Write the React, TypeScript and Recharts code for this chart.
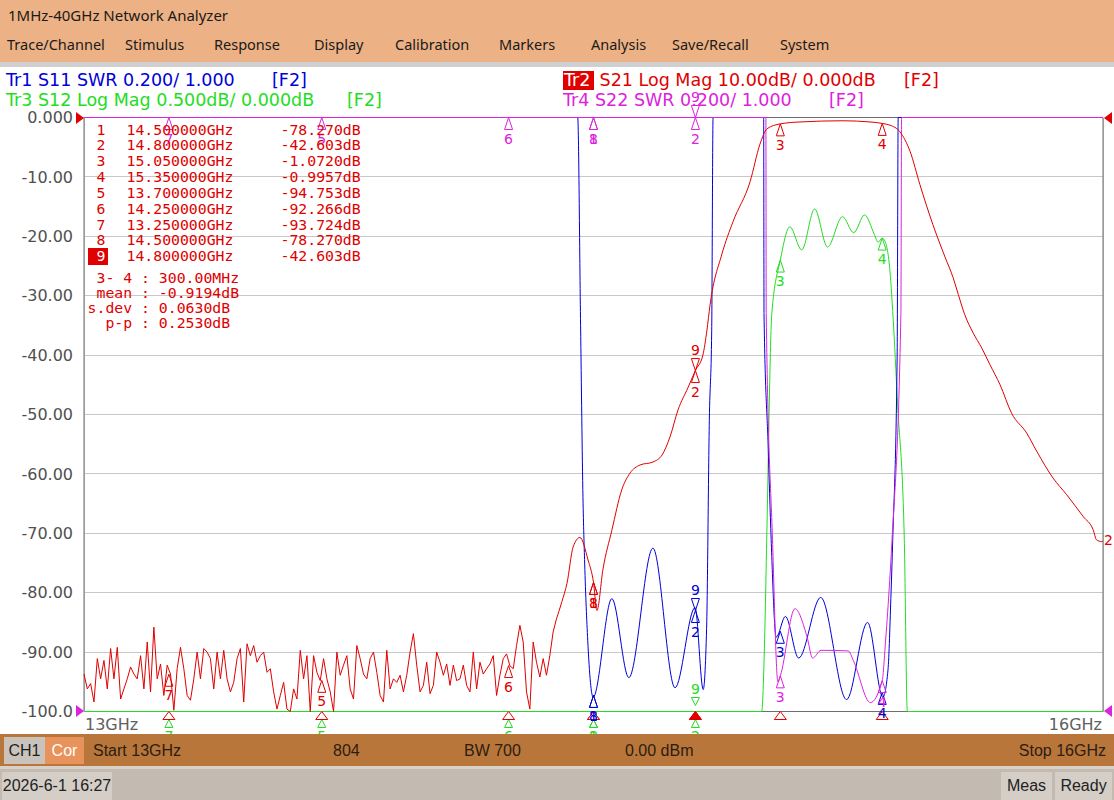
import React from "react";
import {
  CartesianGrid,
  ComposedChart,
  Line,
  ReferenceArea,
  Scatter,
  XAxis,
  YAxis,
} from "recharts";

const RED = "#e00000";
const BLUE = "#0000d8";
const GREEN = "#22dd22";
const MAGENTA = "#dd22dd";
const GRID_COLOR = "#c8c8c8";
const FRAME_COLOR = "#6e6e6e";
const AXIS_TEXT = "#505050";

const UI_FONT = '"Noto Sans", sans-serif';
const TRACE_FONT = '"DejaVu Sans", sans-serif';
const MONO_FONT = '"DejaVu Sans Mono", monospace';
const STATUS_FONT = '"Liberation Sans", Arial, sans-serif';

const X_TICKS_GHZ = [13, 13.3, 13.6, 13.9, 14.2, 14.5, 14.8, 15.1, 15.4, 15.7, 16];
const Y_TICKS = [0, -10, -20, -30, -40, -50, -60, -70, -80, -90, -100];

const MENU = [
  ["Trace/Channel", 7],
  ["Stimulus", 125],
  ["Response", 214],
  ["Display", 314],
  ["Calibration", 395],
  ["Markers", 499],
  ["Analysis", 591],
  ["Save/Recall", 672],
  ["System", 780],
] as const;

// markers (Tr2 readout table order)
const MARKER_NO = [1, 2, 3, 4, 5, 6, 7, 8, 9];
const MARKER_GHZ = [14.5, 14.8, 15.05, 15.35, 13.7, 14.25, 13.25, 14.5, 14.8];
const S21_MARKER_DB = [-78.27, -42.603, -1.072, -0.9957, -94.753, -92.266, -93.724, -78.27, -42.603];
// other traces, in screen divisions of the shared grid (null = not shown)
const S11_MARKER = [-97.3, -83, -86.5, -96.8, null, null, null, -97.3, -83];
const S12_MARKER = [-100, -100, -24, -20.3, -100, -100, -100, -100, -100];
const S22_MARKER = [0, 0, -94, -94.8, 0, 0, 0, 0, 0];

const STATS = [
  [" 3- 4", "300.00MHz"],
  [" mean", "-0.9194dB"],
  ["s.dev", "0.0630dB"],
  ["  p-p", "0.2530dB"],
];

// S21 noise floor, swept 13.000 .. 14.391 GHz
const NOISE_START_GHZ = 13;
const NOISE_END_GHZ = 14.391;
const S21_NOISE_DB = [
  -93.7, -96.2, -95.3, -98.4, -91.1, -94.5, -91.4, -96.2, -89.4, -94.5,
  -89.2, -97.9, -96.2, -94.5, -92.5, -93.7, -94.5, -90.6, -96.2, -88.3,
  -96.7, -85.8, -94.5, -92.0, -97.3, -92.2, -93.7, -99.8, -92.8, -89.2,
  -92.8, -97.3, -98.1, -94.5, -90.0, -94.5, -89.4, -90.0, -91.1, -96.2,
  -90.0, -94.5, -89.7, -94.5, -96.7, -95.1, -91.1, -89.4, -98.4, -88.6,
  -90.6, -88.9, -91.7, -90.6, -90.0, -93.4, -92.8, -96.7, -99.6, -97.3,
  -95.1, -99.6, -100, -96.2, -97.9, -89.7, -94.5, -90.6, -100, -90.6,
  -93.4, -94.8, -91.1, -94.5,
  -96.7, -100, -90.0, -93.9, -92.2, -90.6, -96.2, -97.9, -88.9, -91.1,
  -93.7, -94.5, -91.1, -90.0, -93.4, -97.3, -98.4, -89.7, -96.2, -94.5,
  -95.1, -93.9, -96.7, -93.9, -90.0, -86.9, -92.2, -96.7, -95.6, -91.7,
  -97.0, -95.6, -90.0, -91.7, -93.9, -92.0, -95.6, -92.2, -94.8, -94.5,
  -92.2, -95.6, -96.7, -90.0, -96.2, -91.7, -93.7, -92.8, -92.0, -90.6,
  -97.3, -93.9, -91.1, -90.3, -92.3, -92.8, -88.9, -85.5, -88.3, -96.7,
  -99.6, -88.3, -91.7, -94.2, -91.1, -93.9, -90.6, -86.6, -84.4,
];

// [GHz, dB]
const S21_PASSBAND: [number, number][] = [
  [14.391, -84.4], [14.407, -81.5], [14.422, -78.4], [14.44, -72.3], [14.46, -70.7],
  [14.484, -74.5], [14.5, -78.27], [14.51, -83], [14.528, -76], [14.554, -69.5],
  [14.583, -62.7], [14.607, -59.9], [14.637, -58.5], [14.675, -58], [14.702, -56.8],
  [14.725, -53.8], [14.749, -49.2], [14.778, -45.5], [14.8, -42.603], [14.822, -40],
  [14.834, -35.8], [14.843, -31.6], [14.878, -23], [14.911, -17.5], [14.961, -10.8],
  [14.99, -4.5], [15.011, -1.9], [15.05, -1.072], [15.108, -0.75], [15.234, -0.55],
  [15.314, -0.75], [15.35, -0.9957], [15.373, -1.3], [15.402, -2.4], [15.432, -5.7],
  [15.461, -11.3], [15.499, -18], [15.535, -23.5], [15.559, -27], [15.574, -29.8],
  [15.593, -33.2], [15.618, -36.3], [15.643, -38.8], [15.667, -41.6], [15.697, -45],
  [15.731, -49.8], [15.775, -53.1], [15.805, -56.2], [15.853, -60.7], [15.893, -63.5],
  [15.942, -67.2], [15.971, -69.4], [15.981, -71.1], [15.996, -71.4], [16, -71.3],
];

// S11 SWR, S12 and S22 in grid divisions (clipped at the plot edges)
const S11_SWR: [number, number][] = [
  [13, 0], [14.4535, 0], [14.462, -35], [14.469, -64], [14.474, -75], [14.483, -88],
  [14.499, -97.6], [14.554, -81], [14.604, -94.3], [14.675, -72.5], [14.74, -96],
  [14.799, -82.5], [14.823, -96.3], [14.833, -86], [14.841, -51], [14.848, -35.8],
  [14.852, 0], [15.001, 0], [15.002, -33], [15.014, -55], [15.023, -71], [15.038, -87.5],
  [15.065, -84], [15.104, -91], [15.169, -80.8], [15.245, -98], [15.307, -85],
  [15.352, -97.6], [15.367, -93], [15.376, -80], [15.381, -71], [15.394, -40],
  [15.397, 0], [16, 0],
];

const S12_LOGMAG: [number, number][] = [
  [13, -100], [14.995, -100], [15.005, -85], [15.01, -71], [15.025, -33], [15.05, -24],
  [15.078, -18.4], [15.113, -22.3], [15.151, -15.4], [15.189, -21.8], [15.233, -16.7],
  [15.266, -19.4], [15.298, -16.4], [15.327, -19.7], [15.338, -21], [15.35, -20.3],
  [15.358, -20.8], [15.373, -26], [15.382, -33.7], [15.395, -48], [15.415, -71],
  [15.424, -100], [16, -100],
];

const S22_SWR: [number, number][] = [
  [13, 0], [15.0075, 0], [15.0085, -33], [15.027, -71], [15.043, -95], [15.05, -94],
  [15.093, -82.7], [15.129, -87.5], [15.145, -91], [15.17, -89.7], [15.25, -89.8],
  [15.265, -91.4], [15.315, -98.5], [15.35, -94.8], [15.36, -88], [15.372, -78],
  [15.379, -71], [15.405, -33], [15.407, 0], [16, 0],
];

type Pt = { f: number; v: number };
const toPts = (rows: [number, number][]): Pt[] => rows.map(([f, v]) => ({ f, v }));

const noiseStep = (NOISE_END_GHZ - NOISE_START_GHZ) / (S21_NOISE_DB.length - 1);
const s21Noise: Pt[] = S21_NOISE_DB.map((v, i) => ({ f: NOISE_START_GHZ + i * noiseStep, v }));

type Mk = {
  f: number;
  v: number;
  n: number;
  color: string;
  down: boolean;
  dy: number;
  h: number;
  gap: number;
};

type Shift = (v: number, down: boolean) => Partial<Pick<Mk, "dy" | "h" | "gap">>;

function markerPoints(values: (number | null)[], color: string, shift?: Shift): Mk[] {
  const out: Mk[] = [];
  MARKER_NO.forEach((n, i) => {
    const v = values[i];
    if (v == null) return;
    const down = n === 9;
    out.push({ f: MARKER_GHZ[i], v, n, color, down, dy: 0, h: 12, gap: down ? 16 : 26, ...(shift ? shift(v, down) : {}) });
  });
  return out;
}

// S12 markers sit under the stimulus arrows when the trace is clipped at the bottom
const s12Shift: Shift = (v, down) => {
  if (v > -100) return {};
  return down ? { dy: -6, h: 8, gap: 12 } : { dy: 8, h: 8, gap: 21 };
};

const s21Markers = markerPoints(S21_MARKER_DB, RED);
const s11Markers = markerPoints(S11_MARKER, BLUE);
const s12Markers = markerPoints(S12_MARKER, GREEN, s12Shift);
const s22Markers = markerPoints(S22_MARKER, MAGENTA);
const stimMarkers = MARKER_NO.map((n, i) => ({ f: MARKER_GHZ[i], v: -100, n }));

function fmtY(v: number) {
  if (v === 0) return "0.000";
  if (v === -100) return "-100.0";
  return v.toFixed(2);
}

function fmtDb(v: number) {
  const intDigits = String(Math.floor(Math.abs(v))).length;
  return v.toFixed(Math.min(4, 5 - intDigits)) + "dB";
}

function MarkerGlyph(props: any) {
  const { cx, cy, payload } = props;
  if (cx == null || cy == null) return null;
  const { color, n, down, dy, h, gap } = payload as Mk;
  const y = cy + dy;
  const tri = down
    ? `${cx},${y} ${cx - 4},${y - h} ${cx + 4},${y - h}`
    : `${cx},${y} ${cx - 4},${y + h} ${cx + 4},${y + h}`;
  return (
    <g>
      <polygon points={tri} fill="none" stroke={color} strokeWidth={1} />
      <text
        x={cx}
        y={down ? y - gap : y + gap}
        textAnchor="middle"
        fontSize={14}
        fontFamily={TRACE_FONT}
        fill={color}
      >
        {n}
      </text>
    </g>
  );
}

function StimGlyph(props: any) {
  const { cx, cy, payload } = props;
  if (cx == null || cy == null) return null;
  const filled = payload.n === 9;
  return (
    <polygon
      points={`${cx},${cy} ${cx - 6},${cy + 8} ${cx + 6},${cy + 8}`}
      fill={filled ? RED : "#fff"}
      stroke={RED}
      strokeWidth={1}
    />
  );
}

type TxtProps = {
  x?: number;
  right?: number;
  cy: number;
  size: number;
  color: string;
  font: string;
  children: React.ReactNode;
};

function Txt({ x, right, cy, size, color, font, children }: TxtProps) {
  const h = Math.round(size * 1.3);
  return (
    <div
      style={{
        position: "absolute",
        left: x,
        right,
        top: cy - h / 2,
        height: h,
        lineHeight: `${h}px`,
        fontSize: size,
        color,
        fontFamily: font,
        whiteSpace: "pre",
      }}
    >
      {children}
    </div>
  );
}

function Box({ x, y, w, h, bg, children, color = "#222", size = 16 }: any) {
  return (
    <div
      style={{
        position: "absolute",
        left: x,
        top: y,
        width: w,
        height: h,
        background: bg,
        color,
        fontFamily: STATUS_FONT,
        fontSize: size,
        lineHeight: `${h}px`,
        textAlign: "center",
      }}
    >
      {children}
    </div>
  );
}

// grid and frame only: straight lines, drawn sharp like the instrument
const CRISP_CSS = `
.vna .recharts-cartesian-grid line,
.vna .recharts-reference-area rect { shape-rendering: crispEdges; }
`;

export default function App() {
  const rowY = (i: number) => 129 + i * 15.85;
  return (
    <div
      className="vna"
      style={{
        position: "absolute",
        left: 0,
        top: 0,
        width: 1114,
        height: 800,
        overflow: "hidden",
        background: "#fff",
      }}
    >
      <style>{CRISP_CSS}</style>
      {/* title + menu */}
      <div style={{ position: "absolute", left: 0, top: 0, width: 1114, height: 62, background: "#ecb184" }} />
      <Txt x={8} cy={15} size={15} color="#1a1a1a" font={UI_FONT}>
        1MHz-40GHz Network Analyzer
      </Txt>
      {MENU.map(([label, x]) => (
        <Txt key={label} x={x} cy={44} size={14.5} color="#1a1a1a" font={UI_FONT}>
          {label}
        </Txt>
      ))}
      <div style={{ position: "absolute", left: 0, top: 62, width: 1114, height: 5, background: "#cfcfcf" }} />

      {/* trace headers */}
      <Txt x={6} cy={80} size={17.5} color={BLUE} font={TRACE_FONT}>Tr1 S11 SWR 0.200/ 1.000</Txt>
      <Txt x={272} cy={80} size={17.5} color={BLUE} font={TRACE_FONT}>[F2]</Txt>
      <div style={{ position: "absolute", left: 563, top: 71, width: 31, height: 19, background: RED }} />
      <Txt x={564} cy={80} size={17.5} color="#fff" font={TRACE_FONT}>Tr2</Txt>
      <Txt x={594} cy={80} size={17.5} color={RED} font={TRACE_FONT}> S21 Log Mag 10.00dB/ 0.000dB</Txt>
      <Txt x={904} cy={80} size={17.5} color={RED} font={TRACE_FONT}>[F2]</Txt>
      <Txt x={6} cy={100} size={17.5} color={GREEN} font={TRACE_FONT}>Tr3 S12 Log Mag 0.500dB/ 0.000dB</Txt>
      <Txt x={347} cy={100} size={17.5} color={GREEN} font={TRACE_FONT}>[F2]</Txt>
      <Txt x={563} cy={100} size={17.5} color={MAGENTA} font={TRACE_FONT}>Tr4 S22 SWR 0.200/ 1.000</Txt>
      <Txt x={829} cy={100} size={17.5} color={MAGENTA} font={TRACE_FONT}>[F2]</Txt>

      {/* chart */}
      <div style={{ position: "absolute", left: 0, top: 67, width: 1114, height: 667 }}>
        <ComposedChart width={1114} height={667} margin={{ top: 50.5, right: 11, bottom: 0, left: 0 }}>
          <CartesianGrid stroke={GRID_COLOR} />
          <XAxis
            type="number"
            dataKey="f"
            domain={[13, 16]}
            ticks={X_TICKS_GHZ}
            tick={false}
            tickLine={false}
            axisLine={false}
            height={22.5}
          />
          <YAxis
            type="number"
            domain={[-100, 0]}
            ticks={Y_TICKS}
            interval={0}
            width={84}
            tickLine={false}
            axisLine={false}
            tickSize={0}
            tickMargin={11}
            tick={{ fill: AXIS_TEXT, fontSize: 16, fontFamily: TRACE_FONT }}
            tickFormatter={fmtY}
          />
          <ReferenceArea x1={13} x2={16} y1={-100} y2={0} fill="none" stroke={FRAME_COLOR} fillOpacity={0} />
          <Line data={toPts(S12_LOGMAG)} dataKey="v" type="monotone" stroke={GREEN} strokeWidth={1} dot={false} activeDot={false} isAnimationActive={false} />
          <Line data={toPts(S11_SWR)} dataKey="v" type="monotone" stroke={BLUE} strokeWidth={1} dot={false} activeDot={false} isAnimationActive={false} />
          <Line data={toPts(S22_SWR)} dataKey="v" type="monotone" stroke={MAGENTA} strokeWidth={1} dot={false} activeDot={false} isAnimationActive={false} />
          <Line data={s21Noise} dataKey="v" type="linear" stroke={RED} strokeWidth={1} dot={false} activeDot={false} isAnimationActive={false} />
          <Line data={toPts(S21_PASSBAND)} dataKey="v" type="monotone" stroke={RED} strokeWidth={1} dot={false} activeDot={false} isAnimationActive={false} />
          <Scatter data={s12Markers} dataKey="v" shape={(p: any) => <MarkerGlyph {...p} />} isAnimationActive={false} />
          <Scatter data={stimMarkers} dataKey="v" shape={(p: any) => <StimGlyph {...p} />} isAnimationActive={false} />
          <Scatter data={s11Markers} dataKey="v" shape={(p: any) => <MarkerGlyph {...p} />} isAnimationActive={false} />
          <Scatter data={s22Markers} dataKey="v" shape={(p: any) => <MarkerGlyph {...p} />} isAnimationActive={false} />
          <Scatter data={s21Markers} dataKey="v" shape={(p: any) => <MarkerGlyph {...p} />} isAnimationActive={false} />
        </ComposedChart>
      </div>

      {/* marker readout table */}
      <div style={{ position: "absolute", left: 88, top: rowY(8) - 8, width: 20, height: 17, background: RED }} />
      {MARKER_NO.map((n, i) => (
        <React.Fragment key={n}>
          <Txt x={96.5} cy={rowY(i)} size={14.8} color={n === 9 ? "#fff" : RED} font={MONO_FONT}>{String(n)}</Txt>
          <Txt x={126.5} cy={rowY(i)} size={14.8} color={RED} font={MONO_FONT}>{MARKER_GHZ[i].toFixed(6) + "GHz"}</Txt>
          <Txt x={280.5} cy={rowY(i)} size={14.8} color={RED} font={MONO_FONT}>{fmtDb(S21_MARKER_DB[i])}</Txt>
        </React.Fragment>
      ))}
      {STATS.map(([k, val], i) => (
        <Txt key={k} x={87.6} cy={277 + i * 15.2} size={14.8} color={RED} font={MONO_FONT}>
          {`${k} : ${val}`}
        </Txt>
      ))}

      {/* axis end labels */}
      <Txt x={85} cy={724} size={16} color="#606060" font={TRACE_FONT}>13GHz</Txt>
      <Txt right={12} cy={724} size={16} color="#606060" font={TRACE_FONT}>16GHz</Txt>

      {/* reference arrows and trace tag */}
      <svg width={1114} height={800} style={{ position: "absolute", left: 0, top: 0, pointerEvents: "none" }}>
        <polygon points="76,112 84,118 76,124" fill={RED} />
        <polygon points="76,705 84,711 76,717" fill={MAGENTA} />
        <polygon points="1112,112 1104,118 1112,124" fill={RED} />
        <polygon points="1112,705 1104,711 1112,717" fill={MAGENTA} />
        <text x={1104} y={545} fontSize={14} fontFamily={TRACE_FONT} fill={RED}>2</text>
      </svg>

      {/* channel status bar */}
      <div style={{ position: "absolute", left: 0, top: 734, width: 1114, height: 32, background: "#b9763b" }} />
      <Box x={4} y={737} w={41} h={27} bg="#cac3bb" color="#1e1e1e">CH1</Box>
      <Box x={45} y={737} w={39} h={27} bg="#e8925c" color="#fff">Cor</Box>
      <Txt x={93} cy={750} size={16} color="#2b1d10" font={STATUS_FONT}>Start 13GHz</Txt>
      <Txt x={333} cy={750} size={16} color="#2b1d10" font={STATUS_FONT}>804</Txt>
      <Txt x={464} cy={750} size={16} color="#2b1d10" font={STATUS_FONT}>BW 700</Txt>
      <Txt x={625} cy={750} size={16} color="#2b1d10" font={STATUS_FONT}>0.00 dBm</Txt>
      <Txt right={8} cy={750} size={16} color="#2b1d10" font={STATUS_FONT}>Stop 16GHz</Txt>

      {/* bottom bar */}
      <div style={{ position: "absolute", left: 0, top: 766, width: 1114, height: 3, background: "#d8d1c9" }} />
      <div style={{ position: "absolute", left: 0, top: 769, width: 1114, height: 31, background: "#c3bbb1" }} />
      <Box x={2} y={772} w={110} h={28} bg="#d4cec7">2026-6-1 16:27</Box>
      <Box x={1001} y={772} w={51} h={28} bg="#d4cec7">Meas</Box>
      <Box x={1055} y={772} w={57} h={28} bg="#d4cec7">Ready</Box>
    </div>
  );
}
